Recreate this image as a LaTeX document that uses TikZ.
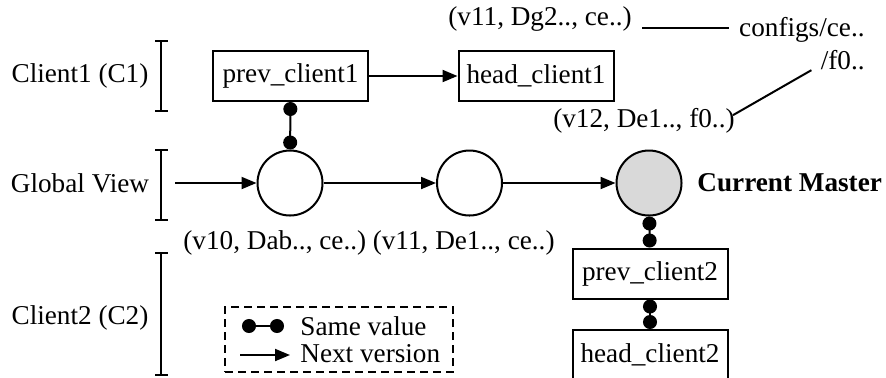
\documentclass[tikz,border=0pt]{standalone}
\usepackage{fontspec}
\setmainfont{Liberation Serif}
\usetikzlibrary{arrows.meta}
\begin{document}
\begin{tikzpicture}[x=0.5pt,y=-0.5pt,
  every node/.style={font=\fontsize{13.6}{16}\selectfont, inner sep=0pt},
  line/.style={line width=1pt},
  box/.style={draw, line width=1pt, minimum width=77.5pt, minimum height=25pt},
  state/.style={draw, circle, line width=1pt, minimum size=32.5pt},
  next/.style={line width=1pt, -{Triangle[length=7.5pt,width=6pt]}},
  same/.style={line width=1pt, {Circle[length=7pt]}-{Circle[length=7pt]}},
]
\useasboundingbox (0,0) rectangle (886,377);

% row labels with brackets
\node (lc1) at (80,76) {Client1 (C1)};
\node (lgv) at (80,183) {Global View};
\node (lc2) at (80,318) {Client2 (C2)};
\draw[line] (155,41) -- (168,41) (161,41) -- (161,111) (155,111) -- (168,111);
\draw[line] (155,150) -- (168,150) (161,150) -- (161,220) (155,220) -- (168,220);
\draw[line] (155,253) -- (168,253) (161,253) -- (161,375) (155,375) -- (168,375);

% client 1 pointers
\node[box] (prev1) at (290.5,76) {prev\_client1};
\node[box] (head1) at (536,76) {head\_client1};

% global view versions
\coordinate (gvin) at (175,183);
\node[state] (g10) at (290,183) {};
\node[state] (g11) at (469.5,183) {};
\node[state, fill=black!15] (g12) at (649,183) {};
\node[anchor=west] (cm) at (697,183) {\textbf{Current Master}};

% client 2 pointers
\node[box] (prev2) at (650,273.5) {prev\_client2};
\node[box] (head2) at (650,355) {head\_client2};

% version labels
\node[anchor=west] (v10) at (183,243) {(v10, Dab.., ce..)};
\node[anchor=east] (v11) at (555,243) {(v11, De1.., ce..)};
\node[anchor=east] (v12) at (735,121) {(v12, De1.., f0..)};
\node[anchor=west] (vdg) at (448,19) {(v11, Dg2.., ce..)};
\node[anchor=east] (cfg) at (865,30) {configs/ce..};
\node[anchor=east] (cf0) at (865,60) {/f0..};

% connectors
\draw[next] (prev1) -- (head1);
\draw[next] (gvin) -- (g10);
\draw[next] (g10) -- (g11);
\draw[next] (g11) -- (g12);
\draw[same] (prev1) -- (g10);
\draw[same] (g12) -- (prev2);
\draw[same] (prev2) -- (head2);
\draw[line, shorten <=5pt, shorten >=5pt] (vdg.east |- 0,28) -- (cfg.west |- 0,28);
\draw[line] ([shift={(-9,0)}]cf0.south west) -- ([shift={(-2,7)}]v12.north east);

% legend
\node[draw, dashed, dash pattern=on 4pt off 2.5pt, line width=0.8pt,
      minimum width=114pt, minimum height=32.5pt] (legend) at (339,339.5) {};
\coordinate (sa) at (242,326);
\coordinate (sb) at (284,326);
\coordinate (na) at (240,355);
\coordinate (nb) at (290,355);
\draw[same] (sa) -- (sb);
\draw[next] (na) -- (nb);
\node[anchor=west] (lsame) at (300,326) {Same value};
\node[anchor=west] (lnext) at (300,354) {Next version};
\end{tikzpicture}
\end{document}
